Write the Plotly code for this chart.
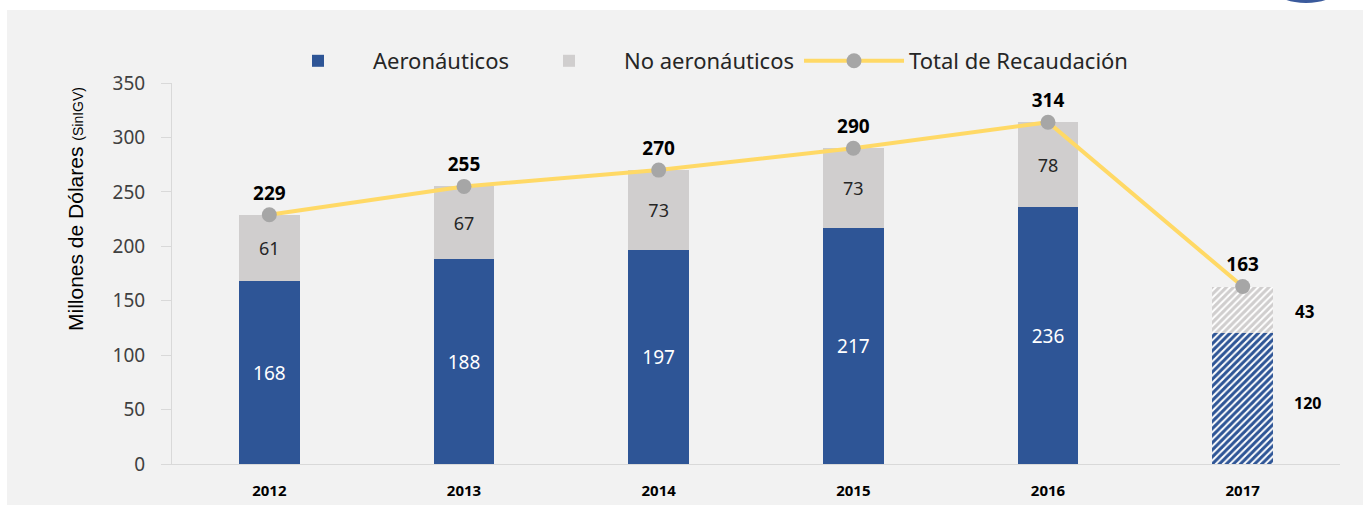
import plotly.graph_objects as go

years = ["2012", "2013", "2014", "2015", "2016", "2017"]
aeronauticos = [168, 188, 197, 217, 236, 120]
no_aeronauticos = [61, 67, 73, 73, 78, 43]
total = [229, 255, 270, 290, 314, 163]
y_ticks = [0, 50, 100, 150, 200, 250, 300, 350]

BLUE = "#2e5596"
GREY = "#d0cece"
YELLOW = "#ffd966"
MARK = "#a6a6a6"
BG = "#f2f2f2"

proj = [y == "2017" for y in years]
shapes_pat = ["/" if p else "" for p in proj]
aero_text = ["" if p else str(v) for v, p in zip(aeronauticos, proj)]
noaero_text = ["" if p else str(v) for v, p in zip(no_aeronauticos, proj)]

fig = go.Figure()
fig.add_trace(go.Bar(
    x=years, y=aeronauticos, name="Aeronáuticos",
    marker=dict(color=BLUE, line=dict(width=0),
                pattern=dict(shape=shapes_pat, fgcolor=BLUE, bgcolor="white",
                             size=5, solidity=0.6, fillmode="replace")),
    text=aero_text, textposition="inside", insidetextanchor="middle",
    textfont=dict(color="white", size=19, family="Noto Sans"),
    hoverinfo="skip",
))
fig.add_trace(go.Bar(
    x=years, y=no_aeronauticos, name="No aeronáuticos",
    marker=dict(color=GREY, line=dict(width=0),
                pattern=dict(shape=shapes_pat, fgcolor=GREY, bgcolor="white",
                             size=5, solidity=0.6, fillmode="replace")),
    text=noaero_text, textposition="inside", insidetextanchor="middle",
    textfont=dict(color="#262626", size=18, family="Noto Sans"),
    hoverinfo="skip",
))
fig.add_trace(go.Scatter(
    x=years, y=total, name="Total de Recaudación",
    mode="lines+markers+text",
    line=dict(color=YELLOW, width=4),
    marker=dict(color=MARK, size=15),
    text=[str(v) for v in total], textposition="top center",
    textfont=dict(color="black", size=19, family="Noto Sans", weight="bold"),
    hoverinfo="skip",
))

W, H = 1363, 508
L, R, T, B = 172, 23, 83, 44
pw, ph = W - L - R, H - T - B

def px_x(p):
    return (p - L) / pw

def px_y(q):
    return (H - B - q) / ph

annotations = []
for i, (a, n, p) in enumerate(zip(aeronauticos, no_aeronauticos, proj)):
    if p:
        annotations.append(dict(x=i, y=a / 2, text=str(a), showarrow=False,
                                xshift=65, yshift=-4,
                                font=dict(size=16, color="black", family="Noto Sans", weight="bold")))
        annotations.append(dict(x=i, y=a + n / 2, text=str(n), showarrow=False,
                                xshift=62, yshift=-2,
                                font=dict(size=17, color="black", family="Noto Sans", weight="bold")))

annotations.append(dict(
    xref="paper", yref="paper", x=px_x(75), y=px_y(209), showarrow=False,
    textangle=-90, xanchor="center", yanchor="middle",
    text="Millones de Dólares <span style='font-size:14px'>(SinIGV)</span>",
    font=dict(size=21, color="black", family="Liberation Sans Narrow, Liberation Sans, sans-serif"),
))

shapes = [
    dict(type="rect", xref="paper", yref="paper", layer="below",
         x0=px_x(7), x1=px_x(1363), y0=px_y(505), y1=px_y(10),
         fillcolor=BG, line=dict(width=0)),
    dict(type="circle", xref="paper", yref="paper", layer="above",
         x0=px_x(1277), x1=px_x(1335), y0=px_y(3), y1=px_y(-20),
         fillcolor="#3a5a9c", line=dict(width=0)),
]

fig.update_layout(
    width=W, height=H,
    barmode="stack", bargap=0.69,
    paper_bgcolor="white", plot_bgcolor=BG,
    margin=dict(l=L, r=R, t=T, b=B, autoexpand=False),
    font=dict(family="Noto Sans", color="#404040"),
    showlegend=True,
    legend=dict(orientation="h", x=px_x(263), xanchor="left", y=px_y(61), yanchor="middle",
                font=dict(size=22, color="#262626", family="Noto Sans"),
                bgcolor="rgba(0,0,0,0)", itemwidth=100, traceorder="normal"),
    xaxis=dict(type="category", range=[-0.5, len(years) - 0.5], showgrid=False, showline=True,
               linecolor="#d9d9d9", linewidth=1,
               ticks="", tickfont=dict(size=15, color="black", family="Noto Sans", weight="bold"),
               ticklabelstandoff=13),
    yaxis=dict(range=[0, 350], tickvals=y_ticks, showgrid=False, showline=True,
               linecolor="#d9d9d9", linewidth=1, ticks="outside", ticklen=10,
               tickcolor="#d9d9d9", tickfont=dict(size=19, color="#404040", family="Noto Sans"),
               ticklabelstandoff=12, zeroline=False),
    annotations=annotations,
    shapes=shapes,
)

fig.write_html("out.html", config={"displayModeBar": False},
               post_script="document.body.style.margin='0px';")
